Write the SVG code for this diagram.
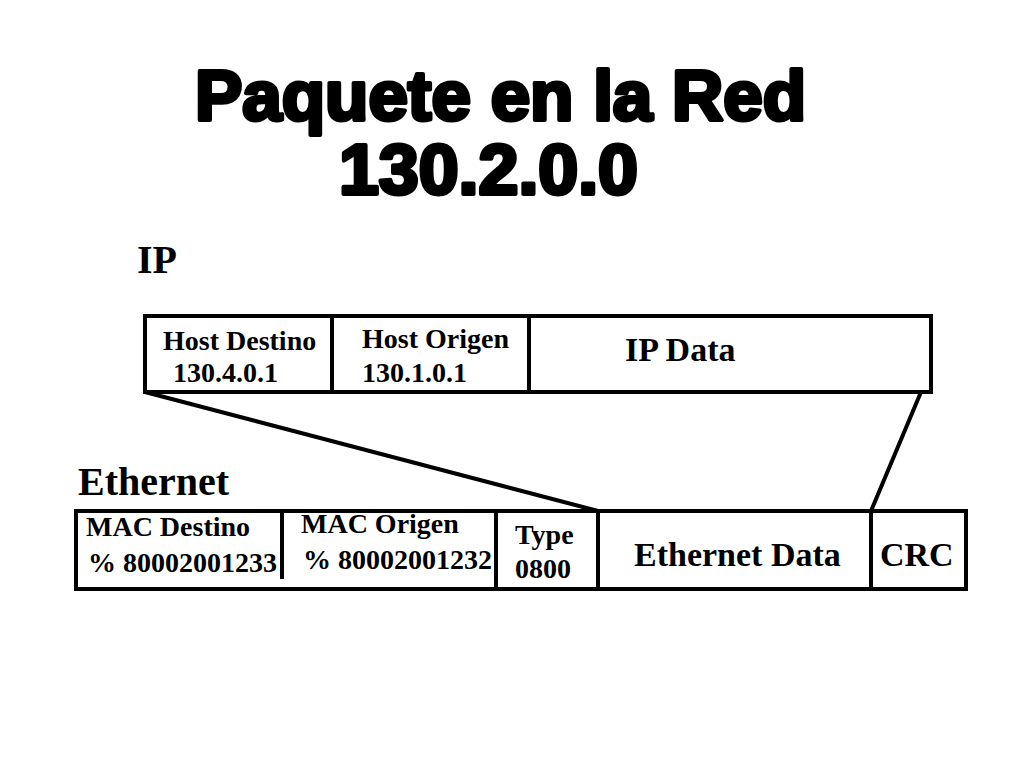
<svg xmlns="http://www.w3.org/2000/svg" width="1024" height="768" viewBox="0 0 1024 768">
<style>
.t{font-family:"Liberation Sans",Arial,sans-serif;font-weight:bold;font-size:70px;stroke:#000;stroke-width:4;stroke-linejoin:round;fill:#000}
.h{font-family:"Liberation Serif","Times New Roman",serif;font-weight:bold;font-size:40px;fill:#000}
.s{font-family:"Liberation Serif","Times New Roman",serif;font-weight:bold;font-size:28px;fill:#000}
.m{font-family:"Liberation Serif","Times New Roman",serif;font-weight:bold;font-size:34px;fill:#000}
.b{fill:none;stroke:#000;stroke-width:4}
</style>
<rect width="1024" height="768" fill="#fff"/>
<text class="t" x="195" y="120" textLength="611" lengthAdjust="spacingAndGlyphs">Paquete en la Red</text>
<text class="t" x="339" y="194" textLength="299" lengthAdjust="spacingAndGlyphs">130.2.0.0</text>
<text class="h" x="137" y="273">IP</text>
<text class="h" x="78" y="495">Ethernet</text>
<g id="ip">
<rect class="b" x="145" y="316" width="786" height="76"/>
<line class="b" x1="332" y1="316" x2="332" y2="392"/>
<line class="b" x1="529" y1="316" x2="529" y2="392"/>
<text class="s" x="163" y="350">Host Destino</text>
<text class="s" x="173" y="382">130.4.0.1</text>
<text class="s" x="362" y="348">Host Origen</text>
<text class="s" x="362" y="382">130.1.0.1</text>
<text class="m" x="625" y="361">IP Data</text>
</g>
<g id="eth">
<rect class="b" x="76" y="511" width="890" height="78"/>
<line class="b" x1="282" y1="511" x2="282" y2="579"/>
<line class="b" x1="496" y1="511" x2="496" y2="589"/>
<line class="b" x1="598" y1="511" x2="598" y2="589"/>
<line class="b" x1="871" y1="511" x2="871" y2="589"/>
<text class="s" x="86" y="536">MAC Destino</text>
<text class="s" x="88" y="572">% 80002001233</text>
<text class="s" x="301" y="533">MAC Origen</text>
<text class="s" x="303" y="569">% 80002001232</text>
<text class="s" x="515" y="544">Type</text>
<text class="s" x="515" y="578">0800</text>
<text class="m" x="634" y="566">Ethernet Data</text>
<text class="m" x="880" y="566">CRC</text>
</g>
<g id="connectors">
<line class="b" x1="145" y1="392" x2="598" y2="511"/>
<line class="b" x1="921" y1="392" x2="871" y2="511"/>
</g>
</svg>
